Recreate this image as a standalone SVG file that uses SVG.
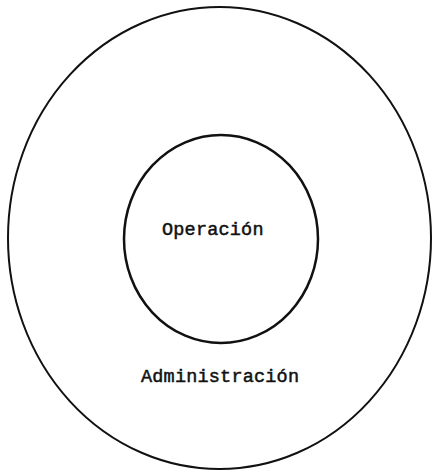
<svg xmlns="http://www.w3.org/2000/svg" width="432" height="471" viewBox="0 0 432 471">
<style>
.ring{fill:none;stroke:#111;}
.lbl{font-family:"Liberation Mono","DejaVu Sans Mono",monospace;font-size:18.5px;fill:#111;stroke:#111;stroke-width:0.5px;letter-spacing:0.2px;}
</style>
<rect width="432" height="471" fill="#fff"/>
<g id="administracion">
<ellipse class="ring" cx="219.5" cy="238" rx="211.5" ry="231" stroke-width="2"/>
<text class="lbl" x="141" y="382">Administración</text>
</g>
<g id="operacion">
<ellipse class="ring" cx="221" cy="239" rx="97" ry="104" stroke-width="2.5"/>
<text class="lbl" x="162" y="235">Operación</text>
</g>
<g id="connectors"/>
</svg>
